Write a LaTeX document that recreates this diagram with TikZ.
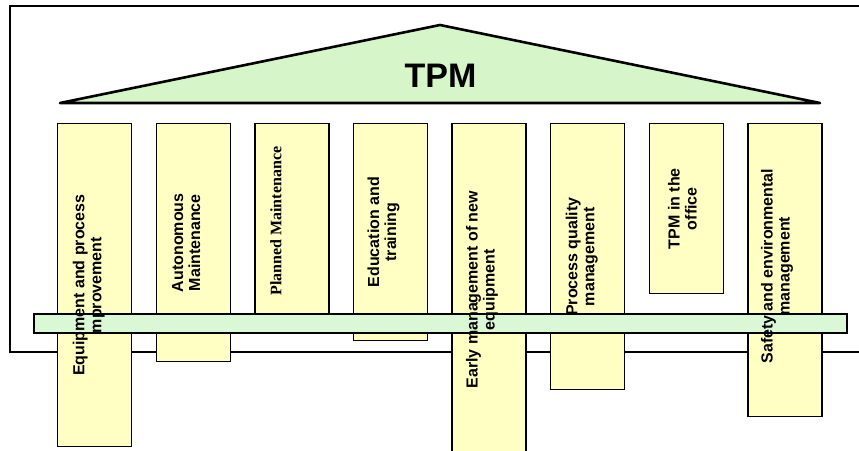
\documentclass[tikz,border=0pt]{standalone}
\usepackage{fontspec}
\setmainfont{Liberation Sans}
\newfontfamily\timesfont{Liberation Serif}
\usepackage{xcolor}
\usetikzlibrary{positioning}

\definecolor{pillaryellow}{RGB}{255,255,196}
\definecolor{roofgreen}{RGB}{214,245,200}
\definecolor{beamgreen}{RGB}{218,247,214}

\begin{document}
\begin{tikzpicture}[x=1pt, y=-1pt]
    \tikzstyle{pillar} = [rectangle, draw, line width=1.4pt, fill=pillaryellow, minimum width=74pt, inner sep=0pt, anchor=north west]
    \tikzstyle{label} = [rotate=90, align=center, font=\bfseries\fontsize{16}{17}\selectfont]
    \tikzstyle{roof} = [line width=2.6pt, fill=roofgreen, line join=round]

    \useasboundingbox (0,0) rectangle (859,450);
    \clip (0,0) rectangle (859,450);

    % outer frame
    \draw [line width=1.2pt] (10,6) rectangle (880,352);

    % roof
    \coordinate (roofL) at (60,103);
    \coordinate (roofT) at (440,25);
    \coordinate (roofR) at (820,103);
    \draw [roof] (roofL) -- (roofT) -- (roofR) -- cycle;
    \node [font=\bfseries\fontsize{34}{34}\selectfont] (tpm) at (440.5,76) {TPM};

    % pillars
    \node [pillar, minimum height=323pt] (eq) at (57,123) {};
    \node [pillar, minimum height=238pt, right=23.2pt of eq.north east, anchor=north west] (am) {};
    \node [pillar, minimum height=195pt, right=23.2pt of am.north east, anchor=north west] (pm) {};
    \node [pillar, minimum height=217pt, right=23.2pt of pm.north east, anchor=north west] (et) {};
    \node [pillar, minimum height=332pt, right=23.2pt of et.north east, anchor=north west] (em) {};
    \node [pillar, minimum height=266pt, right=23.2pt of em.north east, anchor=north west] (pq) {};
    \node [pillar, minimum height=170pt, right=23.2pt of pq.north east, anchor=north west] (of) {};
    \node [pillar, minimum height=293pt, right=23.2pt of of.north east, anchor=north west] (se) {};

    % beam
    \node [rectangle, draw, line width=1.4pt, fill=beamgreen, minimum width=813pt, minimum height=19pt, inner sep=0pt] (beam) at (440.5,323.5) {};

    % pillar texts
    \node [label] at ([xshift=-6pt]eq.center) {Equipment and process\\mprovement};
    \node [label] at ([xshift=-7pt]am.center) {Autonomous\\Maintenance};
    \node [label, font=\timesfont\bfseries\fontsize{16}{17}\selectfont] at ([xshift=-16pt]pm.center) {Planned Maintenance};
    \node [label] at ([xshift=-7pt]et.center) {Education and\\training};
    \node [label] at ([xshift=-7pt]em.center) {Early management of new\\equipment};
    \node [label] at ([xshift=-6pt]pq.center) {Process quality\\management};
    \node [label] at ([xshift=-4pt]of.center) {TPM in the\\office};
    \node [label] at ([xshift=-8pt, yshift=4pt]se.center) {Safety and environmental\\management};
\end{tikzpicture}
\end{document}
